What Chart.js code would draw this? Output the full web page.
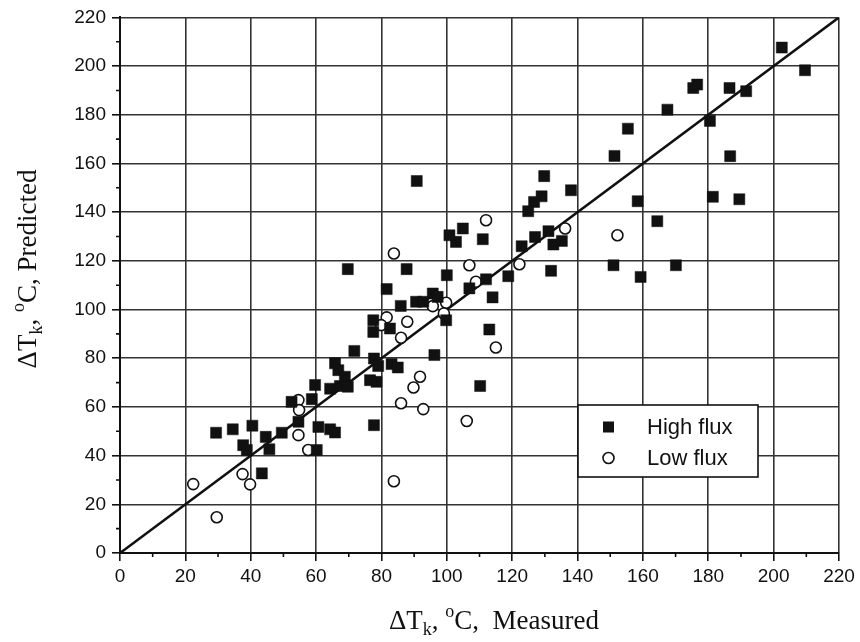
<!DOCTYPE html>
<html>
<head>
<meta charset="utf-8">
<script src="https://cdn.jsdelivr.net/npm/chart.js@4.4.1/dist/chart.umd.min.js"></script>
<style>
  html, body { margin: 0; padding: 0; background: #fff; }
  #wrap { width: 860px; height: 642px; position: relative; }
</style>
</head>
<body>
<div id="wrap"><canvas id="chart"></canvas></div>
<script>
// High flux (filled squares)
const highX = [29.4, 34.5, 40.5, 37.7, 38.8, 44.6, 45.7, 43.4, 49.5, 54.6, 52.5, 58.7, 59.7, 64.3, 67.3,
  60.7, 64.3, 65.8, 60.2, 69.7, 87.7, 100, 111, 102.8, 81.6, 85.9, 90.6, 92.8, 95.7, 97.2,
  99.8, 77.5, 77.5, 82.6, 71.7, 96.2, 113, 114, 112, 106.9, 77.7, 79, 83.1, 85, 65.8,
  66.8, 68.8, 69.7, 76.5, 78.5, 77.7, 110.2, 90.8, 100.8, 104.9, 129.8, 129, 126.7, 124.9, 138,
  151.3, 122.9, 127, 131.1, 132.6, 135.2, 131.9, 151, 118.8, 202.5, 209.6, 175.4, 176.6, 186.5, 191.6,
  167.5, 180.5, 155.4, 186.7, 158.4, 181.4, 189.5, 164.4, 159.3, 170.1];
const highY = [49.4, 50.8, 52.3, 44.3, 42.3, 47.7, 42.6, 32.7, 49.4, 53.9, 62.1, 63.2, 69, 67.5, 68.6,
  51.8, 50.8, 49.5, 42.3, 116.6, 116.6, 114.1, 128.9, 127.8, 108.4, 101.5, 103.2, 103.2, 106.6, 105.2,
  95.6, 95.6, 90.8, 92.2, 83, 81.3, 91.8, 105, 112.4, 108.7, 79.9, 76.8, 77.6, 76.2, 77.9,
  75.1, 72.4, 68.3, 71, 70.3, 52.5, 68.6, 152.8, 130.5, 133.3, 154.8, 146.5, 144.2, 140.4, 149,
  163.1, 126, 129.8, 132.2, 126.7, 128.2, 115.9, 118.2, 113.7, 207.6, 198.3, 191, 192.4, 191, 189.7,
  182.1, 177.5, 174.3, 163, 144.5, 146.3, 145.3, 136.3, 113.4, 118.2];

// Low flux (open circles)
const lowX = [22.4, 29.6, 37.5, 39.8, 54.6, 54.8, 54.6, 57.6, 83.8, 81.6, 79.9, 87.9, 86, 95.7, 99.8,
  99.1, 106.9, 108.9, 115, 91.8, 89.8, 86, 92.8, 106.1, 112, 136.2, 152.2, 122.2, 83.8];
const lowY = [28.3, 14.7, 32.4, 28.2, 62.8, 58.7, 48.4, 42.3, 123, 96.8, 93.6, 95, 88.4, 101.4, 102.8,
  98.4, 118.2, 111.4, 84.4, 72.4, 68, 61.5, 59.1, 54.2, 136.7, 133.3, 130.5, 118.6, 29.5];

// 1:1 line
const lineX = [0, 220];
const lineY = [0, 220];

const axisMin = 0;
const axisMax = 220;
const majorStep = 20;
const minorStep = 10;

const toPoints = (xs, ys) => xs.map((x, i) => ({ x, y: ys[i] }));

// minor tick marks between the labelled ones
const minorTicks = {
  id: "minorTicks",
  afterDraw(chart) {
    const { ctx, chartArea, scales } = chart;
    ctx.save();
    ctx.strokeStyle = "#111";
    ctx.lineWidth = 1.6;
    for (let v = axisMin + minorStep; v < axisMax; v += majorStep) {
      const px = scales.x.getPixelForValue(v);
      const py = scales.y.getPixelForValue(v);
      ctx.beginPath();
      ctx.moveTo(px, chartArea.bottom);
      ctx.lineTo(px, chartArea.bottom + 4);
      ctx.moveTo(chartArea.left, py);
      ctx.lineTo(chartArea.left - 4, py);
      ctx.stroke();
    }
    ctx.restore();
  },
};

// draws a run of text parts with sub/superscripts, centred on the origin
function drawRich(ctx, parts, size, family) {
  const small = Math.round(size * 0.66);
  let w = 0;
  parts.forEach((p) => {
    ctx.font = `${p.sub || p.sup ? small : size}px ${family}`;
    p.w = ctx.measureText(p.t).width;
    w += p.w;
  });
  let x = -w / 2;
  parts.forEach((p) => {
    ctx.font = `${p.sub || p.sup ? small : size}px ${family}`;
    const dy = p.sub ? size * 0.3 : p.sup ? -size * 0.36 : 0;
    ctx.fillText(p.t, x, dy);
    x += p.w;
  });
}

const axisTitles = {
  id: "axisTitles",
  afterDraw(chart) {
    const { ctx } = chart;
    const fam = "'Liberation Serif', 'Times New Roman', serif";
    ctx.save();
    ctx.fillStyle = "#111";
    ctx.textBaseline = "middle";
    ctx.textAlign = "left";
    ctx.translate(494, 622);
    drawRich(ctx, [{ t: "\u0394T" }, { t: "k", sub: true }, { t: ", " }, { t: "o", sup: true }, { t: "C,  Measured" }], 27, fam);
    ctx.restore();

    ctx.save();
    ctx.fillStyle = "#111";
    ctx.textBaseline = "middle";
    ctx.textAlign = "left";
    ctx.translate(29, 269);
    ctx.rotate(-Math.PI / 2);
    drawRich(ctx, [{ t: "\u0394T" }, { t: "k", sub: true }, { t: ", " }, { t: "o", sup: true }, { t: "C, Predicted" }], 27, fam);
    ctx.restore();
  },
};

const boxLegend = {
  id: "boxLegend",
  afterDraw(chart) {
    const { ctx } = chart;
    const bx = 578, by = 405, bw = 180, bh = 72;
    ctx.save();
    ctx.fillStyle = "#fff";
    ctx.fillRect(bx, by, bw, bh);
    ctx.strokeStyle = "#111";
    ctx.lineWidth = 1.6;
    ctx.strokeRect(bx, by, bw, bh);
    ctx.font = "22px 'Liberation Sans', Arial, sans-serif";
    ctx.textBaseline = "middle";
    const rows = [chart.data.datasets[0], chart.data.datasets[1]];
    rows.forEach((ds, i) => {
      const cy = by + 22 + i * 31;
      if (ds.pointStyle === "rect") {
        ctx.fillStyle = "#111";
        ctx.fillRect(bx + 25, cy - 5.5, 11, 11);
      } else {
        ctx.beginPath();
        ctx.arc(bx + 30.5, cy, 5.5, 0, Math.PI * 2);
        ctx.lineWidth = 1.6;
        ctx.strokeStyle = "#111";
        ctx.stroke();
      }
      ctx.fillStyle = "#111";
      ctx.fillText(ds.label, bx + 69, cy + 1);
    });
    ctx.restore();
  },
};

const tickFont = { family: "'Liberation Sans', Arial, sans-serif", size: 19 };

new Chart(document.getElementById("chart"), {
  type: "scatter",
  data: {
    datasets: [
      {
        label: "High flux",
        data: toPoints(highX, highY),
        pointStyle: "rect",
        pointRadius: 7.8,
        backgroundColor: "#111",
        borderColor: "#111",
        borderWidth: 0.5,
      },
      {
        label: "Low flux",
        data: toPoints(lowX, lowY),
        pointStyle: "circle",
        pointRadius: 5.5,
        backgroundColor: "#fff",
        borderColor: "#111",
        borderWidth: 1.6,
      },
      {
        type: "line",
        label: "1:1",
        data: toPoints(lineX, lineY),
        borderColor: "#111",
        borderWidth: 2.6,
        pointRadius: 0,
        fill: false,
      },
    ],
  },
  options: {
    responsive: true,
    maintainAspectRatio: false,
    animation: false,
    layout: { padding: { left: 0, top: 17, right: 21, bottom: 0 } },
    plugins: {
      legend: { display: false },
      tooltip: { enabled: false },
    },
    scales: {
      x: {
        type: "linear",
        min: axisMin,
        max: axisMax,
        afterFit: (s) => { s.height = 89; },
        ticks: { stepSize: majorStep, color: "#111", font: tickFont, padding: 4 },
        grid: { color: "#333", lineWidth: 1.6, tickLength: 8, tickColor: "#111" },
        border: { display: true, color: "#111", width: 2 },
      },
      y: {
        type: "linear",
        min: axisMin,
        max: axisMax,
        afterFit: (s) => { s.width = 120; },
        ticks: { stepSize: majorStep, color: "#111", font: tickFont, padding: 6 },
        grid: { color: "#333", lineWidth: 1.6, tickLength: 8, tickColor: "#111" },
        border: { display: true, color: "#111", width: 2 },
      },
    },
  },
  plugins: [minorTicks, axisTitles, boxLegend],
});
</script>
</body>
</html>
